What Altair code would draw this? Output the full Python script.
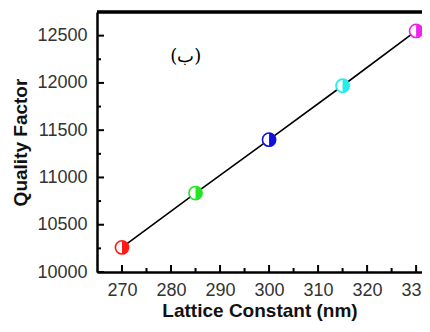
import altair as alt
import pandas as pd

lattice = [270, 285, 300, 315, 330]
quality = [10260, 10835, 11400, 11970, 12550]
colors = ["#ff1a1a", "#22e622", "#1010e0", "#22eeee", "#ee22ee"]
label_text = "(ب)"
label_x = [283]
label_y = [12270]

x_labels = [270, 280, 290, 300, 310, 320, 330]
x_minor = [275, 285, 295, 305, 315, 325]
y_labels = [10000, 10500, 11000, 11500, 12000, 12500]
y_minor = [10250, 10750, 11250, 11750, 12250]

df = pd.DataFrame({"x": lattice, "y": quality, "c": [str(v) for v in lattice]})
df_lab = pd.DataFrame({"x": label_x, "y": label_y, "t": [label_text]})

W, H = 325, 260
xs = alt.Scale(domain=[264.9, 331.2], nice=False, zero=False)
ys = alt.Scale(domain=[10000, 12750], nice=False, zero=False)
cs = alt.Scale(domain=[str(v) for v in lattice], range=colors)

FONT = "Liberation Sans"

x_main = alt.Axis(orient="bottom", values=x_labels, ticks=False, format="d",
                  domainColor="black", domainWidth=2.5, labelFont=FONT, labelFontSize=18,
                  labelColor="#333", labelPadding=9, title="Lattice Constant (nm)",
                  titleFont=FONT, titleFontSize=19, titleFontWeight="bold",
                  titleColor="#111", titlePadding=2, grid=False)
y_main = alt.Axis(orient="left", values=y_labels, ticks=False, format="d",
                  domainColor="black", domainWidth=2.5, labelFont=FONT, labelFontSize=18,
                  labelColor="#333", labelPadding=10, title="Quality Factor",
                  titleFont=FONT, titleFontSize=19, titleFontWeight="bold",
                  titleColor="#111", titlePadding=6, grid=False)


def X(field):
    return alt.X(field, scale=xs, axis=x_main)


def Y(field):
    return alt.Y(field, scale=ys, axis=y_main)


base = alt.Chart(df)

line = base.mark_line(color="black", strokeWidth=1.6).encode(x=X("x:Q"), y=Y("y:Q"))

outline = base.mark_point(shape="circle", filled=False, size=175, strokeWidth=1.6, opacity=1).encode(
    x=X("x:Q"), y=Y("y:Q"),
    color=alt.Color("c:N", scale=cs, legend=None),
)
inner = base.mark_point(shape="circle", filled=True, size=150, color="white", opacity=1).encode(
    x=X("x:Q"), y=Y("y:Q"),
)
half = base.mark_point(shape="M0,-1A1,1,0,0,1,0,1Z", filled=True, size=175, opacity=1).encode(
    x=X("x:Q"), y=Y("y:Q"),
    color=alt.Color("c:N", scale=cs, legend=None),
)

top_border = alt.Chart(df).mark_rule(color="black", strokeWidth=2.5).encode(
    y=alt.datum(12750, scale=ys, axis=y_main),
)


def xtick(vals, length):
    return alt.Chart(pd.DataFrame({"v": vals})).mark_rule(color="black", strokeWidth=2).encode(
        x=X("v:Q"),
        y=alt.value(H), y2=alt.value(H - length),
    )


def ytick(vals, length):
    return alt.Chart(pd.DataFrame({"v": vals})).mark_rule(color="black", strokeWidth=2).encode(
        y=Y("v:Q"),
        x=alt.value(0), x2=alt.value(length),
    )


text = alt.Chart(df_lab).mark_text(font="DejaVu Serif", fontSize=18, color="black").encode(
    x=X("x:Q"), y=Y("y:Q"), text="t:N",
)

chart = alt.layer(
    line, xtick(x_labels, 7), xtick(x_minor, 4), ytick(y_labels, 7), ytick(y_minor, 4),
    inner, outline, half, top_border, text
).properties(
    width=W, height=H,
    autosize=alt.AutoSizeParams(type="none"),
    padding={"left": 89, "top": 4, "right": 0, "bottom": 52},
).configure_view(stroke=None)

chart.save("out.html", embed_options={"renderer": "svg", "actions": False})
